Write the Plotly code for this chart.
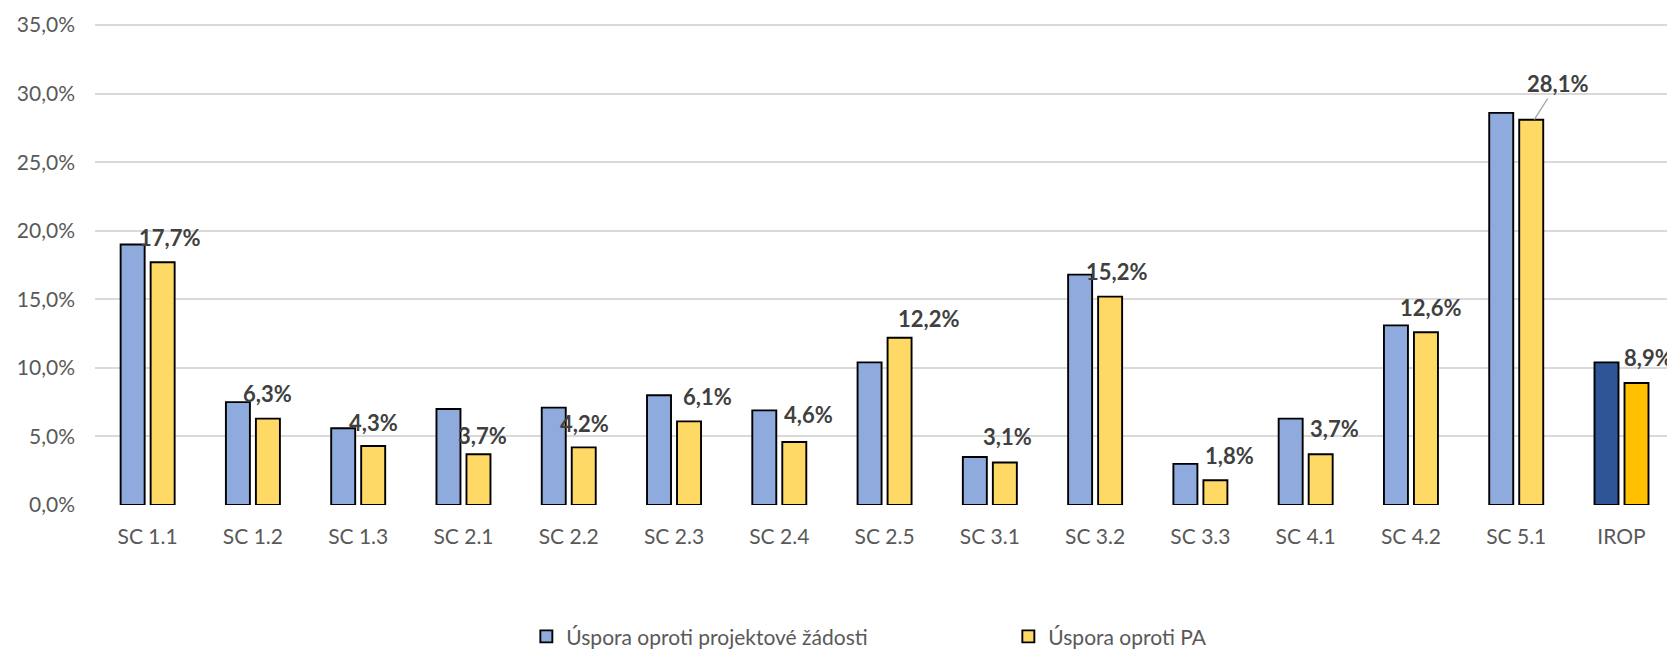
import plotly.graph_objects as go

categories = ["SC 1.1", "SC 1.2", "SC 1.3", "SC 2.1", "SC 2.2", "SC 2.3", "SC 2.4",
              "SC 2.5", "SC 3.1", "SC 3.2", "SC 3.3", "SC 4.1", "SC 4.2", "SC 5.1", "IROP"]
uspora_zadost = [19.0, 7.5, 5.6, 7.0, 7.1, 8.0, 6.9, 10.4, 3.5, 16.8, 3.0, 6.3, 13.1, 28.6, 10.4]
uspora_pa = [17.7, 6.3, 4.3, 3.7, 4.2, 6.1, 4.6, 12.2, 3.1, 15.2, 1.8, 3.7, 12.6, 28.1, 8.9]
y_ticks = [0, 5, 10, 15, 20, 25, 30, 35]
y_tick_labels = ["0,0%", "5,0%", "10,0%", "15,0%", "20,0%", "25,0%", "30,0%", "35,0%"]
series_names = ["Úspora oproti projektové žádosti", "Úspora oproti PA"]

# label pixel offsets (style): dx, dy relative to top-centre of the yellow bar
label_dx = [7, 0, 0, 4, 1, 18, 14, 29, 3, 6, 14, 14, 5, 23, 12]
label_dy = [25, 25, 24, 19, 24, 25, 27, 19, 26, 25, 25, 26, 25, 36, 25]

FONT = "Lato, 'Open Sans', sans-serif"
blue = ["#8FAADC"] * (len(categories) - 1) + ["#2F5597"]
yellow = ["#FFD966"] * (len(categories) - 1) + ["#FFC000"]

fig = go.Figure()
fig.add_trace(go.Bar(x=categories, y=uspora_zadost, name=series_names[0],
                     marker=dict(color=blue, line=dict(color="#000000", width=1.9))))
fig.add_trace(go.Bar(x=categories, y=uspora_pa, name=series_names[1],
                     marker=dict(color=yellow, line=dict(color="#000000", width=1.9))))

def fmt(v):
    return f"{v:.1f}".replace(".", ",") + "%"

LABEL_FONT = dict(family=FONT, size=22, color="#404040", weight="bold")
for i, (c, v) in enumerate(zip(categories, uspora_pa)):
    if c == "SC 5.1":
        fig.add_annotation(x=c, y=v, xref="x", yref="y", text=fmt(v),
                           showarrow=True, arrowhead=0, arrowwidth=1.3, arrowcolor="#A6A6A6",
                           ax=label_dx[i], ay=-label_dy[i], xshift=18, standoff=0,
                           font=LABEL_FONT)
    else:
        fig.add_annotation(x=c, y=v, xref="x", yref="y", text=fmt(v), showarrow=False,
                           xanchor="center", yanchor="middle",
                           xshift=15 + label_dx[i], yshift=label_dy[i],
                           font=LABEL_FONT)

# page body has an 8px default margin, so the figure is 8px smaller than the window
fig.update_layout(
    width=1667, height=641,
    margin=dict(l=87, r=0, t=13, b=144, autoexpand=False),
    paper_bgcolor="#FFFFFF", plot_bgcolor="rgba(0,0,0,0)",
    barmode="group", bargap=0.43, bargroupgap=0.2,
    font=dict(family=FONT, size=21, color="#595959"),
    showlegend=True,
    legend=dict(orientation="h", x=0.273, xanchor="left",
                yref="container", y=0.0192, yanchor="middle",
                entrywidth=437, font=dict(family=FONT, size=21, color="#595959"),
                bgcolor="rgba(0,0,0,0)", traceorder="normal"),
    xaxis=dict(type="category", showgrid=False, showline=False, ticks="", automargin=False,
               ticklabelstandoff=17, tickfont=dict(family=FONT, size=21, color="#595959")),
    yaxis=dict(range=[0, 35.3], tickvals=y_ticks, ticktext=y_tick_labels, automargin=False,
               showgrid=True, gridcolor="#D9D9D9", gridwidth=1.5, zeroline=False,
               showline=False, ticks="", ticklabelstandoff=19,
               tickfont=dict(family=FONT, size=21, color="#595959")),
)

fig.write_html("out.html")
